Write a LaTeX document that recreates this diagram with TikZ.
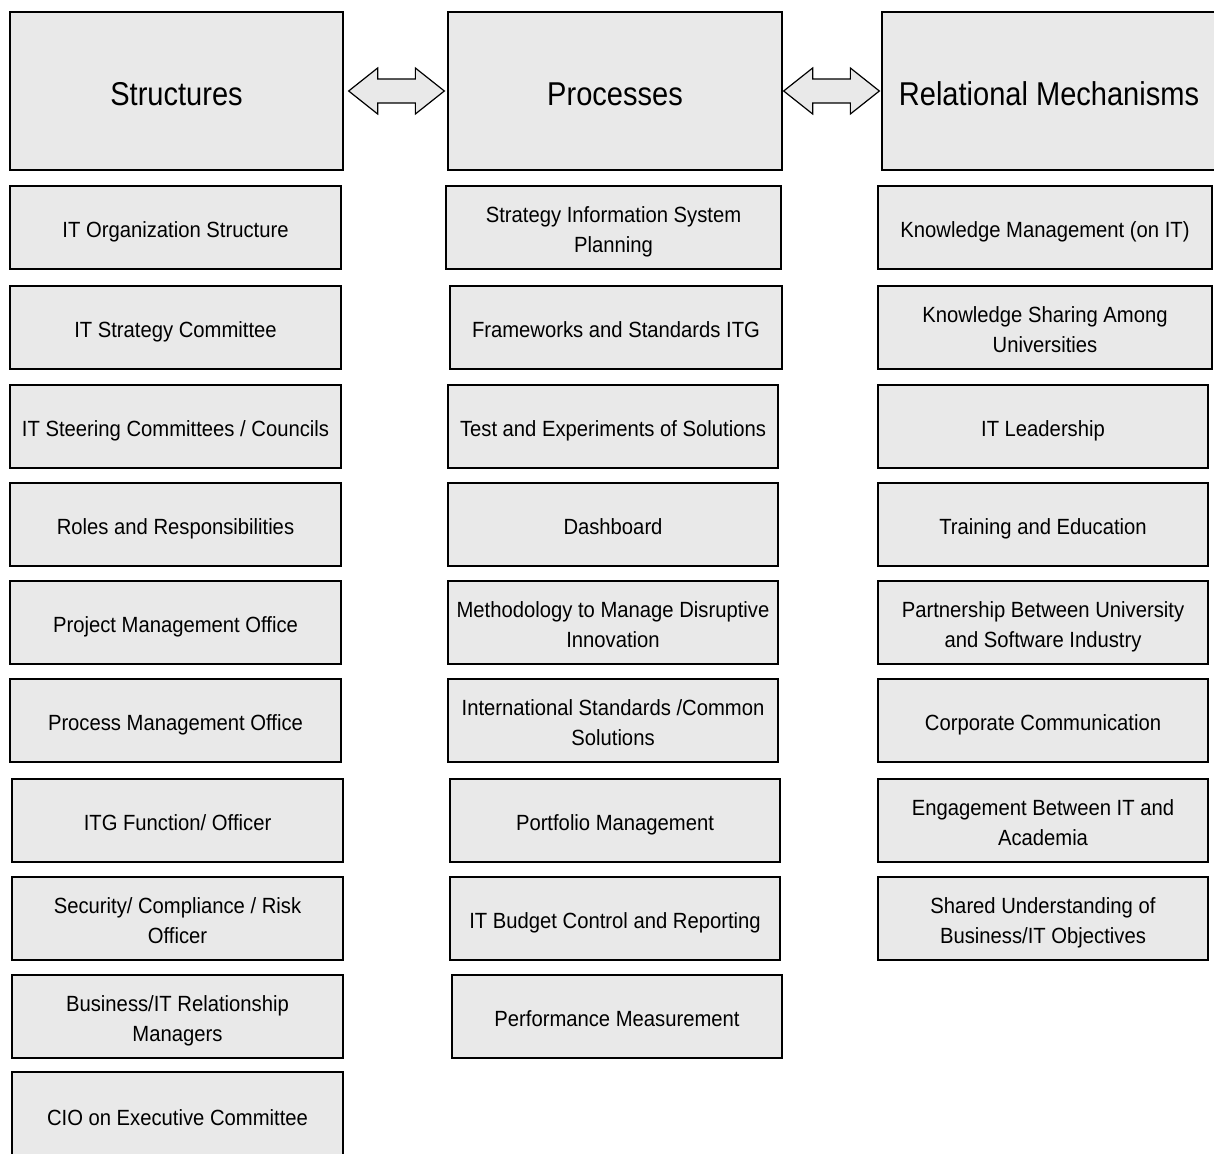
\documentclass[tikz,border=0pt]{standalone}
\usepackage{fontspec}
\setmainfont[FakeStretch=0.92]{Liberation Sans}
\newfontfamily\hdrfont[FakeStretch=0.88]{Liberation Sans}
\usetikzlibrary{calc}
\definecolor{boxfill}{HTML}{E9E9E9}
\newcommand{\onestrut}{\rule[-5pt]{0pt}{29.8pt}}
\newcommand{\twostrut}{\rule[-5pt]{0pt}{59pt}}
\newcommand{\hdrstrut}{\rule[-3.4pt]{0pt}{35pt}}
\tikzset{
  box/.style={draw=black, fill=boxfill, line width=1.3pt, inner sep=0pt, align=center,
    font=\fontsize{22}{30}\selectfont, minimum height=83pt,
    execute at begin node=\onestrut},
  box2/.style={box, execute at begin node=\twostrut},
  hdr/.style={draw=black, fill=boxfill, line width=1.3pt, inner sep=0pt, align=center,
    minimum height=158pt, font=\hdrfont\fontsize{33}{40}\selectfont,
    execute at begin node=\hdrstrut},
  barrow/.style={draw=black, fill=boxfill, line width=1.2pt, line join=miter}
}
\begin{document}
\begin{tikzpicture}[x=1pt,y=-1pt]
\useasboundingbox (0,0) rectangle (1214,1153);
\clip (0,0) rectangle (1214,1153);
% headers
\node[hdr, minimum width=333pt] (hs) at (176.5,91) {Structures};
\node[hdr, minimum width=334pt] (hp) at (615,91) {Processes};
\node[hdr, minimum width=334pt] (hr) at (1049,91) {Relational Mechanisms};
% structures
\node[box, minimum width=331pt] (s1) at (175.5,227.5) {IT Organization Structure};
\node[box, minimum width=331pt] (s2) at (175.5,327.5) {IT Strategy Committee};
\node[box, minimum width=331pt] (s3) at (175.5,426.5) {IT Steering Committees / Councils};
\node[box, minimum width=331pt] (s4) at (175.5,524.5) {Roles and Responsibilities};
\node[box, minimum width=331pt] (s5) at (175.5,622.5) {Project Management Office};
\node[box, minimum width=331pt] (s6) at (175.5,720.5) {Process Management Office};
\node[box, minimum width=331pt] (s7) at (177.5,820.5) {ITG Function/ Officer};
\node[box2, minimum width=331pt] (s8) at (177.5,918.5) {Security/ Compliance / Risk\\Officer};
\node[box2, minimum width=331pt] (s9) at (177.5,1016.5) {Business/IT Relationship\\Managers};
\node[box, minimum width=331pt, minimum height=88pt] (s10) at (177.5,1116) {CIO on Executive Committee};
% processes
\node[box2, minimum width=335pt] (p1) at (613.5,227.5) {Strategy Information System\\Planning};
\node[box, minimum width=332pt] (p2) at (616,327.5) {Frameworks and Standards ITG};
\node[box, minimum width=330pt] (p3) at (613,426.5) {Test and Experiments of Solutions};
\node[box, minimum width=330pt] (p4) at (613,524.5) {Dashboard};
\node[box2, minimum width=330pt] (p5) at (613,622.5) {Methodology to Manage Disruptive\\Innovation};
\node[box2, minimum width=330pt] (p6) at (613,720.5) {International Standards /Common\\Solutions};
\node[box, minimum width=330pt] (p7) at (615,820.5) {Portfolio Management};
\node[box, minimum width=330pt] (p8) at (615,918.5) {IT Budget Control and Reporting};
\node[box, minimum width=330pt] (p9) at (617,1016.5) {Performance Measurement};
% relational
\node[box, minimum width=334pt] (r1) at (1045,227.5) {Knowledge Management (on IT)};
\node[box2, minimum width=334pt] (r2) at (1045,327.5) {Knowledge Sharing Among\\Universities};
\node[box, minimum width=330pt] (r3) at (1043,426.5) {IT Leadership};
\node[box, minimum width=330pt] (r4) at (1043,524.5) {Training and Education};
\node[box2, minimum width=330pt] (r5) at (1043,622.5) {Partnership Between University\\and Software Industry};
\node[box, minimum width=330pt] (r6) at (1043,720.5) {Corporate Communication};
\node[box2, minimum width=330pt] (r7) at (1043,820.5) {Engagement Between IT and\\Academia};
\node[box2, minimum width=330pt] (r8) at (1043,918.5) {Shared Understanding of\\Business/IT Objectives};
% block double arrows
\coordinate (a1) at ($(hs.east)+(5,0)$);
\coordinate (a2) at ($(hp.west)+(-3,0)$);
\coordinate (b1) at ($(hp.east)+(1,0)$);
\coordinate (b2) at ($(hr.west)+(-2,0)$);
\path[barrow] (a1) -- ++(29,-23) -- ++(0,11) -- ($(a2)+(-29,-12)$) -- ++(0,-11) -- (a2)
  -- ++(-29,23) -- ++(0,-11) -- ($(a1)+(29,12)$) -- ++(0,11) -- cycle;
\path[barrow] (b1) -- ++(29,-23) -- ++(0,11) -- ($(b2)+(-29,-12)$) -- ++(0,-11) -- (b2)
  -- ++(-29,23) -- ++(0,-11) -- ($(b1)+(29,12)$) -- ++(0,11) -- cycle;
\end{tikzpicture}
\end{document}
